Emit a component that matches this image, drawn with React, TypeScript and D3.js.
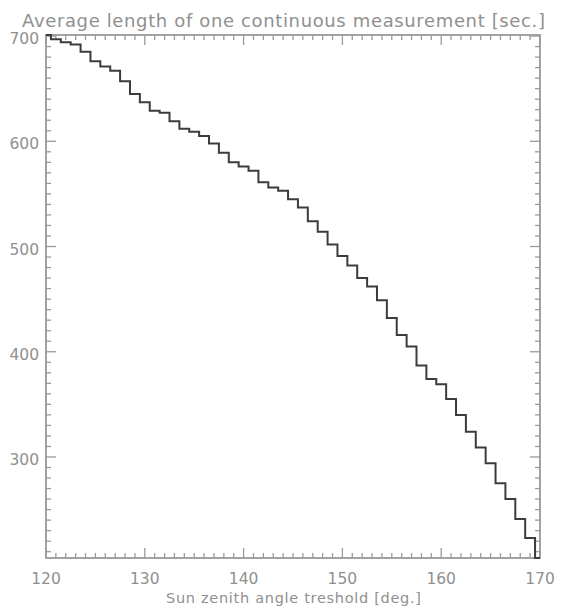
import React from 'react';
import * as d3 from 'd3';

const angles = [120,121,122,123,124,125,126,127,128,129,130,131,132,133,134,135,136,137,138,139,140,141,142,143,144,145,146,147,148,149,150,151,152,153,154,155,156,157,158,159,160,161,162,163,164,165,166,167,168,169,170];
const lengths = [701,697,694,692,685,676,671,667,657,645,637,629,627,619,612,609,605,598,589,580,576,572,561,556,553,545,537,524,514,502,491,482,470,462,449,432,416,405,387,374,369,355,340,324,309,294,275,260,241,223,204];
const xTicks = [120,130,140,150,160,170];
const yTicks = [300,400,500,600,700];
const titleText = 'Average length of one continuous measurement [sec.]';
const xTitleText = 'Sun zenith angle treshold [deg.]';

export default function App() {
  const W = 563, H = 607;
  const L = 46, R = 540, T = 35, B = 558;
  const x = d3.scaleLinear().domain([120, 170]).range([L, R]);
  const y = d3.scaleLinear().domain([d3.min(lengths)!, d3.max(lengths)!]).range([B, T]);
  const pts: [number, number][] = [];
  angles.forEach((a, i) => {
    const x0 = Math.max(120, a - 0.5), x1 = Math.min(170, a + 0.5);
    pts.push([x(x0), y(lengths[i])], [x(x1), y(lengths[i])]);
  });
  const path = d3.line()(pts) || '';
  const xMinor = d3.range(120, 171, 1);
  const yMinor = d3.range(210, 701, 10);
  const axisCol = '#9a9a9a';
  const textCol = '#909090';
  const font = 'DejaVu Sans, sans-serif';
  const minorLen = 5, majorLen = 10;
  return (
    <svg width={W} height={H} style={{ position: 'absolute', left: 0, top: 0, background: '#fff' }}>
      <text x={22} y={27} fontFamily={font} fontSize={18} fill={textCol} textLength={523} lengthAdjust="spacing">{titleText}</text>
      <g stroke={axisCol} strokeWidth={1.3}>
        {xMinor.map(v => {
          const len = v % 10 === 0 ? majorLen : minorLen;
          return (
            <g key={'xm' + v}>
              <line x1={x(v)} x2={x(v)} y1={B} y2={B - len} />
              <line x1={x(v)} x2={x(v)} y1={T} y2={T + len} />
            </g>
          );
        })}
        {yMinor.map(v => {
          const len = v % 100 === 0 ? majorLen : minorLen;
          return (
            <g key={'ym' + v}>
              <line x1={L} x2={L + len} y1={y(v)} y2={y(v)} />
              <line x1={R} x2={R - len} y1={y(v)} y2={y(v)} />
            </g>
          );
        })}
      </g>
      <rect x={L} y={T} width={R - L} height={B - T} fill="none" stroke={axisCol} strokeWidth={1.8} />
      <path d={path} fill="none" stroke="#3c3c3c" strokeWidth={2} />
      {yTicks.map(v => (
        <text key={'yl' + v} x={L - 7} y={y(v) + 8} textAnchor="end" fontFamily={font} fontSize={15.5} fill={textCol}>{v}</text>
      ))}
      {xTicks.map(v => (
        <text key={'xl' + v} x={x(v)} y={584} textAnchor="middle" fontFamily={font} fontSize={15.5} fill={textCol}>{v}</text>
      ))}
      <text x={166} y={603} fontFamily={font} fontSize={14.5} fill={textCol} textLength={255} lengthAdjust="spacing">{xTitleText}</text>
    </svg>
  );
}
